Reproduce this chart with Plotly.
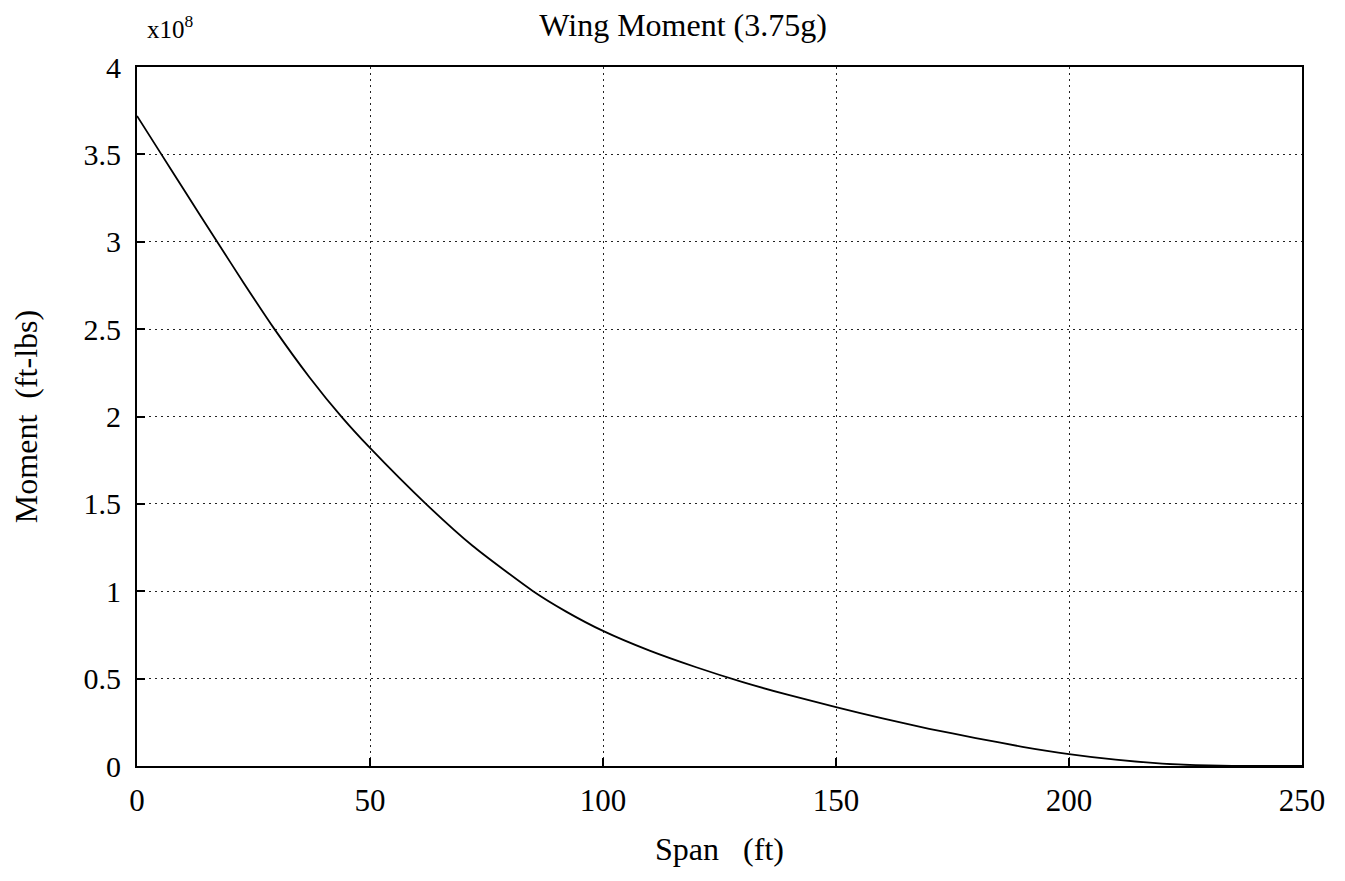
import plotly.graph_objects as go

# Span (ft) and bending moment (x10^8 ft-lbs)
span_ft = [0, 5, 10, 17.2, 23, 29.5, 37, 44, 50, 62, 72, 85, 92, 100,
           110, 120, 130, 140, 150, 160, 170, 180, 190, 200, 210, 220, 230, 240, 250]
moment_1e8 = [3.72, 3.51, 3.30, 3.0, 2.76, 2.5, 2.225, 1.995, 1.82, 1.5, 1.26, 1.0, 0.885, 0.773,
              0.66, 0.565, 0.48, 0.405, 0.337, 0.272, 0.213, 0.16, 0.11, 0.068, 0.036, 0.014, 0.003, 0.0, 0.0]

x_ticks = [0, 50, 100, 150, 200, 250]
y_ticks = [0, 0.5, 1, 1.5, 2, 2.5, 3, 3.5, 4]
y_tick_text = ["0", "0.5", "1", "1.5", "2", "2.5", "3", "3.5", "4"]

FONT = "Liberation Serif"

fig = go.Figure()
fig.add_trace(go.Scatter(
    x=span_ft, y=moment_1e8, mode="lines",
    line=dict(color="black", width=1.8, shape="spline", smoothing=0.6),
    showlegend=False, hoverinfo="skip",
))

axis_common = dict(
    showline=True, linecolor="black", linewidth=2, mirror=True,
    showgrid=True, gridcolor="#222222", gridwidth=1, griddash="2px,4px",
    ticks="inside", ticklen=8, tickcolor="black", tickwidth=1.5,
    zeroline=False,
)

fig.update_layout(
    width=1329, height=865,
    paper_bgcolor="white", plot_bgcolor="white",
    margin=dict(l=129, r=31, t=59, b=102),
    title=dict(text="Wing Moment (3.75g)", x=0.508, xanchor="center", y=0.981, yanchor="middle",
               font=dict(family=FONT, size=32, color="black")),
    xaxis=dict(range=[0, 250], tickvals=x_ticks, ticklabelstandoff=6,
               tickfont=dict(family=FONT, size=31, color="black"),
               title=dict(text="Span\u00a0\u00a0\u00a0(ft)", font=dict(family=FONT, size=32, color="black"), standoff=20),
               **axis_common),
    yaxis=dict(range=[0, 4], tickvals=y_ticks, ticktext=y_tick_text, ticklabelstandoff=8,
               tickfont=dict(family=FONT, size=30, color="black"),
               title=dict(text="Moment\u00a0\u00a0(ft-lbs)", font=dict(family=FONT, size=32, color="black"), standoff=40),
               **axis_common),
    annotations=[dict(
        text="x10<sup>8</sup>", xref="paper", yref="paper", x=0.029, y=1.0,
        xanchor="center", yanchor="bottom", yshift=22, showarrow=False,
        font=dict(family=FONT, size=25, color="black"),
    )],
)

fig.write_html("out.html")
